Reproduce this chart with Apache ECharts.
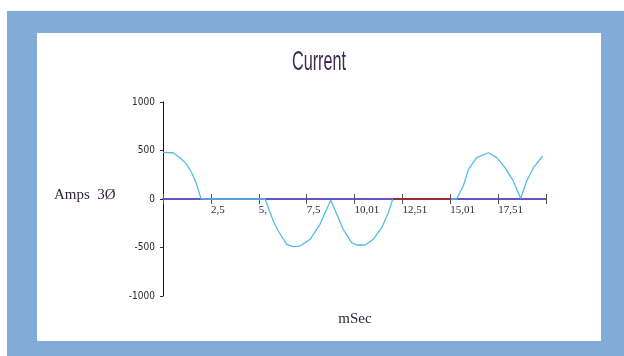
<!DOCTYPE html>
<html>
<head>
<meta charset="utf-8">
<script src="https://cdn.jsdelivr.net/npm/echarts@6/dist/echarts.min.js"></script>
<style>
  html, body { margin: 0; padding: 0; background: #ffffff; }
  #chart { width: 624px; height: 356px; }
</style>
</head>
<body>
<div id="chart"></div>
<script>
// Three-phase current trace, time in ms, amplitude in amps
const timeMs = [0, 0.52, 0.89, 1.24, 1.5, 1.76, 1.98, 2.2, 3.5, 5.07, 5.33, 5.76, 6.02, 6.46, 6.8, 7.15, 7.68, 8.2, 8.46, 8.76,
                9.07, 9.41, 9.85, 10.11, 10.55, 10.98, 11.42, 11.77, 11.99, 13.5, 15.33,
                15.68, 15.95, 16.38, 16.99, 17.43, 17.86, 18.29, 18.68, 18.99, 19.34, 19.83];
const currentA = [480, 477, 426, 357, 271, 151, 5, 0, 0, 0, 0, -227, -330, -467, -492, -485, -416, -261, -141, -13,
                  -155, -313, -450, -474, -474, -416, -296, -141, -3, 0, 0,
                  134, 306, 426, 477, 426, 323, 186, 5, 186, 323, 443];

// Short segment along the zero line shown in dark red
const redSegT = [12.0, 15.04];
const redSegA = [0, 0];

// Axis ticks and their printed labels
const xMin = 0, xMax = 20, xTickStep = 2.5;
const xTickLabels = ['', '2,5', '5,', '7,5', '10,01', '12,51', '15,01', '17,51', ''];
const yMin = -1000, yMax = 1000, yTickStep = 500;

const chart = echarts.init(document.getElementById('chart'), null, { renderer: 'canvas' });

const purple = '#6a52c4';
const serif = "'Liberation Serif', 'DejaVu Serif', serif";
const narrow = "'DejaVu Sans Condensed', 'Liberation Sans Narrow', 'Liberation Sans', sans-serif";

// Plot area: 163..546 horizontally, 102..296 vertically; zero line at 199
const plotLeft = 163, plotRight = 78, plotTop = 102, plotBottom = 60;
const zeroFromBottom = 157;   // distance from the zero line to the bottom of the canvas
const zeroFromTop = 199;      // distance from the zero line to the top of the canvas

chart.setOption({
  backgroundColor: '#ffffff',
  animation: false,
  graphic: [
    // blue frame around the white panel
    { type: 'rect', left: 7, top: 11, shape: { width: 617, height: 345 }, style: { fill: '#83abda' }, z: -10 },
    { type: 'rect', left: 37, top: 33, shape: { width: 564, height: 308 }, style: { fill: '#ffffff' }, z: -9 },
    { type: 'text', x: 319, y: 62, scaleX: 0.58, originX: 0, originY: 0,
      style: { text: 'Current', font: "28px 'Liberation Sans', sans-serif", fill: '#3a2e4c',
               textAlign: 'center', textVerticalAlign: 'middle' } },
    { type: 'text', x: 54, y: 195,
      style: { text: 'Amps  3Ø', font: '15px ' + serif, fill: '#2a1f3a', textAlign: 'left', textVerticalAlign: 'middle' } },
    { type: 'text', x: 355, y: 319,
      style: { text: 'mSec', font: '15px ' + serif, fill: '#2a1f3a', textAlign: 'center', textVerticalAlign: 'middle' } }
  ],
  grid: [
    { left: plotLeft, right: plotRight, top: plotTop, bottom: plotBottom },
    // upper half: its bottom edge is the zero line, carries the labelled time axis
    { left: plotLeft, right: plotRight, top: plotTop, bottom: zeroFromBottom },
    // lower half: its top edge is the zero line, carries the upward tick halves
    { left: plotLeft, right: plotRight, top: zeroFromTop, bottom: plotBottom }
  ],
  xAxis: [
    { gridIndex: 0, type: 'value', min: xMin, max: xMax, show: false },
    {
      gridIndex: 1, type: 'value', min: xMin, max: xMax, interval: xTickStep, position: 'bottom',
      axisLine: { onZero: false, lineStyle: { color: purple, width: 2 } },
      axisTick: { show: true, length: 5, lineStyle: { color: '#555555', width: 1 } },
      axisLabel: {
        show: true, align: 'left', margin: 6,
        fontFamily: serif, fontSize: 11, color: '#2a1f3a',
        formatter: function (v) { return xTickLabels[Math.round(v / xTickStep)] || ''; }
      },
      splitLine: { show: false }
    },
    {
      gridIndex: 2, type: 'value', min: xMin, max: xMax, interval: xTickStep, position: 'top',
      axisLine: { show: false, onZero: false },
      axisTick: { show: true, length: 5, lineStyle: { color: '#555555', width: 1 } },
      axisLabel: { show: false },
      splitLine: { show: false }
    }
  ],
  yAxis: [
    {
      gridIndex: 0, type: 'value', min: yMin, max: yMax, interval: yTickStep,
      axisLine: { show: true, onZero: false, lineStyle: { color: '#111111', width: 1 } },
      axisTick: { show: true, length: 3, lineStyle: { color: '#333333' } },
      axisLabel: { margin: 8, fontFamily: narrow, fontSize: 10, color: '#2a2a2a',
                   formatter: function (v) { return String(v); } },
      splitLine: { show: false }
    },
    { gridIndex: 1, type: 'value', min: 0, max: 1, show: false },
    { gridIndex: 2, type: 'value', min: 0, max: 1, show: false }
  ],
  series: [
    {
      type: 'line', xAxisIndex: 0, yAxisIndex: 0,
      data: timeMs.map((t, i) => [t, currentA[i]]),
      showSymbol: false, smooth: false,
      lineStyle: { color: '#52bfe0', width: 1.3 },
      z: 5
    },
    {
      type: 'line', xAxisIndex: 0, yAxisIndex: 0,
      data: redSegT.map((t, i) => [t, redSegA[i]]),
      showSymbol: false,
      lineStyle: { color: '#9a2e2e', width: 2 },
      z: 6
    }
  ]
});
</script>
</body>
</html>
